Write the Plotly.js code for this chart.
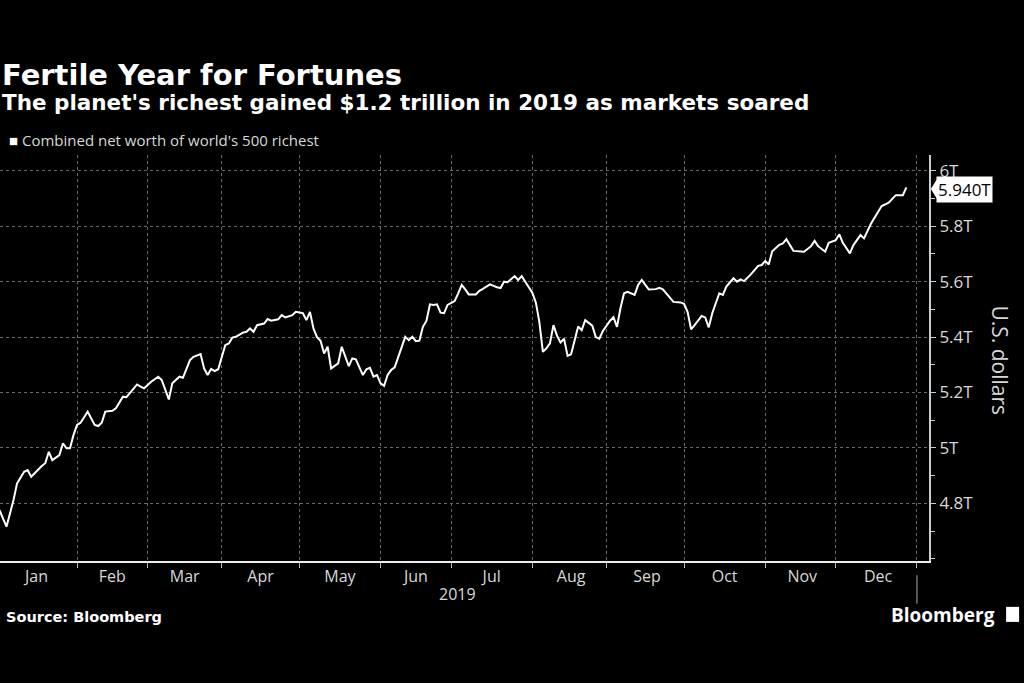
<!DOCTYPE html>
<html>
<head>
<meta charset="utf-8">
<script src="https://cdn.plot.ly/plotly-3.0.1.min.js"></script>
<style>
  html, body { margin: 0; padding: 0; background: #000; }
  #chart { width: 1024px; height: 683px; }
</style>
</head>
<body>
<div id="chart"></div>
<script>
// Combined net worth of world's 500 richest, 2019 (trillions of US$)
var dates = [
  "2019-01-02","2019-01-04","2019-01-08","2019-01-09","2019-01-11","2019-01-14","2019-01-15","2019-01-17",
  "2019-01-18","2019-01-21","2019-01-22","2019-01-23","2019-01-24","2019-01-25","2019-01-28","2019-01-29",
  "2019-01-30","2019-01-31","2019-02-01","2019-02-04","2019-02-06","2019-02-07","2019-02-08","2019-02-11",
  "2019-02-12","2019-02-13","2019-02-15","2019-02-18","2019-02-20","2019-02-21","2019-02-26","2019-02-27",
  "2019-02-28","2019-03-04","2019-03-06","2019-03-07","2019-03-11","2019-03-12","2019-03-14","2019-03-15",
  "2019-03-19","2019-03-20","2019-03-22","2019-03-25","2019-03-26","2019-03-27","2019-03-28","2019-03-29",
  "2019-04-02","2019-04-03","2019-04-04","2019-04-05","2019-04-09","2019-04-10","2019-04-11","2019-04-12",
  "2019-04-15","2019-04-17","2019-04-18","2019-04-19","2019-04-23","2019-04-24","2019-04-25","2019-04-29",
  "2019-04-30","2019-05-02","2019-05-03","2019-05-06","2019-05-07","2019-05-08","2019-05-09","2019-05-10",
  "2019-05-13","2019-05-14","2019-05-16","2019-05-17","2019-05-21","2019-05-22","2019-05-23","2019-05-27",
  "2019-05-28","2019-05-29","2019-05-30","2019-05-31","2019-06-03","2019-06-04","2019-06-05","2019-06-06",
  "2019-06-07","2019-06-12","2019-06-13","2019-06-14","2019-06-17","2019-06-18","2019-06-19","2019-06-20",
  "2019-06-21","2019-06-24","2019-06-25","2019-06-26","2019-06-27","2019-06-28","2019-07-02","2019-07-03",
  "2019-07-04","2019-07-05","2019-07-08","2019-07-10","2019-07-11","2019-07-12","2019-07-16","2019-07-18",
  "2019-07-19","2019-07-22","2019-07-23","2019-07-25","2019-07-26","2019-07-29","2019-07-30","2019-08-01",
  "2019-08-02","2019-08-05","2019-08-06","2019-08-07","2019-08-08","2019-08-09","2019-08-12","2019-08-13",
  "2019-08-14","2019-08-15","2019-08-16","2019-08-20","2019-08-21","2019-08-22","2019-08-26","2019-08-27",
  "2019-08-28","2019-08-29","2019-09-02","2019-09-03","2019-09-04","2019-09-05","2019-09-06","2019-09-09",
  "2019-09-11","2019-09-12","2019-09-13","2019-09-17","2019-09-19","2019-09-20","2019-09-23","2019-09-25",
  "2019-09-26","2019-09-30","2019-10-01","2019-10-02","2019-10-03","2019-10-04","2019-10-08","2019-10-09",
  "2019-10-10","2019-10-11","2019-10-15","2019-10-16","2019-10-17","2019-10-21","2019-10-22","2019-10-23",
  "2019-10-24","2019-10-28","2019-10-30","2019-10-31","2019-11-01","2019-11-04","2019-11-05","2019-11-07",
  "2019-11-08","2019-11-11","2019-11-13","2019-11-18","2019-11-20","2019-11-21","2019-11-22","2019-11-26",
  "2019-11-27","2019-11-29","2019-12-02","2019-12-03","2019-12-05","2019-12-06","2019-12-10","2019-12-11",
  "2019-12-13","2019-12-18","2019-12-20","2019-12-24","2019-12-26","2019-12-27"
];
var netWorth = [
  4.776,4.716,4.812,4.872,4.914,4.920,4.896,4.923,
  4.935,4.945,4.986,4.956,4.966,4.974,5.017,4.999,
  4.999,5.047,5.083,5.091,5.131,5.107,5.083,5.079,
  5.091,5.131,5.134,5.143,5.185,5.183,5.229,5.221,
  5.215,5.239,5.257,5.245,5.175,5.233,5.257,5.253,
  5.317,5.329,5.339,5.287,5.263,5.285,5.277,5.284,
  5.371,5.377,5.398,5.401,5.416,5.419,5.431,5.419,
  5.443,5.449,5.465,5.459,5.464,5.479,5.471,5.479,
  5.491,5.486,5.461,5.491,5.430,5.400,5.387,5.341,
  5.365,5.287,5.305,5.365,5.295,5.323,5.320,5.263,
  5.284,5.289,5.257,5.263,5.233,5.224,5.263,5.281,
  5.291,5.401,5.389,5.401,5.385,5.387,5.437,5.458,
  5.518,5.516,5.518,5.488,5.486,5.516,5.530,5.558,
  5.588,5.572,5.554,5.554,5.567,5.574,5.590,5.580,
  5.577,5.600,5.598,5.620,5.606,5.620,5.600,5.560,
  5.525,5.455,5.347,5.359,5.377,5.443,5.405,5.380,
  5.394,5.332,5.338,5.438,5.425,5.461,5.441,5.400,
  5.394,5.422,5.458,5.472,5.437,5.505,5.558,5.563,
  5.552,5.588,5.606,5.572,5.573,5.578,5.572,5.540,
  5.527,5.525,5.520,5.491,5.428,5.443,5.476,5.471,
  5.435,5.486,5.558,5.552,5.582,5.612,5.600,5.608,
  5.602,5.627,5.657,5.660,5.675,5.662,5.710,5.733,
  5.738,5.753,5.711,5.708,5.728,5.747,5.728,5.708,
  5.740,5.750,5.771,5.740,5.702,5.732,5.768,5.756,
  5.810,5.873,5.885,5.912,5.912,5.940
];

// month labels sit in the middle of each month (trading-day scale)
var monthLabels = ["Jan","Feb","Mar","Apr","May","Jun","Jul","Aug","Sep","Oct","Nov","Dec"];
var monthMid = [
  "2019-01-16 12:00","2019-02-15","2019-03-15 12:00","2019-04-16","2019-05-16 12:00","2019-06-17",
  "2019-07-16 12:00","2019-08-16","2019-09-16 12:00","2019-10-16 12:00","2019-11-15 12:00","2019-12-17"
];
var yTicks = [4.8, 5, 5.2, 5.4, 5.6, 5.8, 6];
var yTickText = ["4.8T", "5T", "5.2T", "5.4T", "5.6T", "5.8T", "6T"];

var titleText = "Fertile Year for Fortunes";
var subtitleText = "The planet's richest gained $1.2 trillion in 2019 as markets soared";
var seriesName = "Combined net worth of world's 500 richest";

var lastValue = netWorth[netWorth.length - 1];
var font = "'Open Sans', 'Noto Sans', sans-serif";
var boldFont = "'DejaVu Sans', sans-serif";
var grey = "#d8d8d8";
var gridGrey = "#6a6a6a";

var trace = {
  x: dates,
  y: netWorth,
  type: "scatter",
  mode: "lines",
  name: seriesName,
  line: {color: "#ffffff", width: 2},
  hoverinfo: "skip",
  showlegend: false
};

var layout = {
  width: 1024,
  height: 683,
  paper_bgcolor: "#000",
  plot_bgcolor: "#000",
  margin: {l: 0, r: 95, t: 155, b: 122},
  font: {family: font, color: grey},
  xaxis: {
    type: "date",
    range: ["2019-01-02 04:00", "2020-01-06 10:00"],
    rangebreaks: [{bounds: ["sat", "mon"]}],
    tickmode: "array",
    tickvals: monthMid,
    ticktext: monthLabels,
    ticks: "",
    tickfont: {size: 16, color: grey},
    showgrid: false,
    minor: {
      tick0: "2019-01-01", dtick: "M1",
      ticks: "outside", ticklen: 5, tickcolor: "#bbb",
      showgrid: true, gridcolor: gridGrey, griddash: "dot"
    },
    showline: true,
    linecolor: "#eee",
    linewidth: 1.5,
    zeroline: false,
    fixedrange: true
  },
  yaxis: {
    side: "right",
    range: [4.592, 6.057],
    tickmode: "array",
    tickvals: yTicks,
    ticktext: yTickText,
    ticks: "outside",
    ticklen: 5,
    tickcolor: "#ccc",
    tickfont: {size: 17, color: grey},
    minor: {tick0: 0, dtick: 0.1, ticks: "outside", ticklen: 4, tickcolor: "#ccc", showgrid: false},
    showgrid: true,
    gridcolor: gridGrey,
    griddash: "dot",
    showline: true,
    linecolor: "#ccc",
    linewidth: 2,
    zeroline: false,
    fixedrange: true
  },
  annotations: [
    {text: "<b>" + titleText + "</b>", xref: "paper", yref: "paper", x: 0, y: 1.243,
     xanchor: "left", yanchor: "top", showarrow: false,
     font: {family: boldFont, size: 29, color: "#fff"}},
    {text: "<b>" + subtitleText + "</b>", xref: "paper", yref: "paper", x: 0, y: 1.164,
     xanchor: "left", yanchor: "top", showarrow: false,
     font: {family: boldFont, size: 21.5, color: "#fff"}},
    {text: "<span style='color:#fff'>■</span> " + seriesName, xref: "paper", yref: "paper", x: 0.007, y: 1.037,
     xanchor: "left", yanchor: "middle", showarrow: false, font: {size: 15, color: grey}},
    {text: "U.S. dollars", xref: "paper", yref: "paper", x: 1.076, y: 0.495, textangle: 90,
     xanchor: "center", yanchor: "middle", showarrow: false, font: {size: 21, color: grey}},
    {text: "2019", xref: "paper", yref: "paper", x: 0.493, y: -0.081,
     xanchor: "center", yanchor: "middle", showarrow: false, font: {size: 16, color: grey}},
    {text: "<b>Source: Bloomberg</b>", xref: "paper", yref: "paper", x: 0.004, y: -0.138,
     xanchor: "left", yanchor: "middle", showarrow: false,
     font: {family: boldFont, size: 14.5, color: "#fff"}},
    {text: "<b>Bloomberg</b>", xref: "paper", yref: "paper", x: 1.073, y: -0.133,
     xanchor: "right", yanchor: "middle", showarrow: false, font: {size: 19, color: "#fff"}},
    // last value flag
    {text: lastValue.toFixed(3) + "T", xref: "paper", yref: "y", x: 1.008, y: lastValue - 0.006,
     xanchor: "left", yanchor: "middle", showarrow: false, bgcolor: "#fff", borderpad: 1,
     font: {size: 17, color: "#000"}}
  ],
  shapes: [
    // pointer of the last value flag
    {type: "path", xref: "paper", yref: "y",
     path: "M 1.002 " + (lastValue - 0.006) + " L 1.009 " + (lastValue + 0.032) + " L 1.009 " + (lastValue - 0.044) + " Z",
     fillcolor: "#fff", line: {width: 0}},
    // year divider under the axis
    {type: "line", xref: "x", yref: "paper", x0: "2020-01-01", x1: "2020-01-01", y0: -0.035, y1: -0.105,
     line: {color: "#aaa", width: 1}},
    // little logo box
    {type: "rect", xref: "paper", yref: "paper", x0: 1.083, x1: 1.097, y0: -0.113, y1: -0.15,
     fillcolor: "#fff", line: {width: 0}}
  ]
};

Plotly.newPlot("chart", [trace], layout, {displayModeBar: false, staticPlot: true});
</script>
</body>
</html>
